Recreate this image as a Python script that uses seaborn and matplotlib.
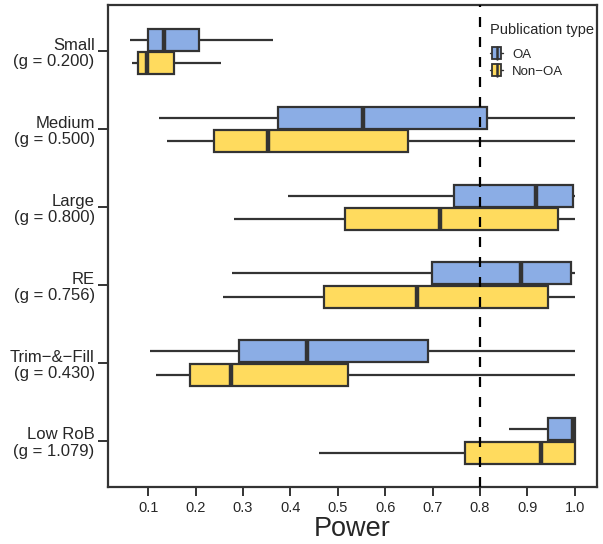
"""
Power of OA vs Non-OA studies, horizontal boxplots by effect size scenario.
"""
import pandas as pd
import matplotlib
matplotlib.use("Agg")
import matplotlib.pyplot as plt
from matplotlib.legend_handler import HandlerBase
from matplotlib.patches import Patch, Rectangle
from matplotlib.lines import Line2D
import seaborn as sns

# Scenario labels (y axis)
scenarios = ["Small\n(g = 0.200)", "Medium\n(g = 0.500)", "Large\n(g = 0.800)",
             "RE\n(g = 0.756)", "Trim\u2212&\u2212Fill\n(g = 0.430)", "Low RoB\n(g = 1.079)"]
groups = ["OA", "Non\u2212OA"]

# five-number summaries: min, q1, median, q3, max
oa_stats = [
    [0.062, 0.100, 0.134, 0.208, 0.363],
    [0.123, 0.374, 0.553, 0.814, 1.000],
    [0.396, 0.746, 0.918, 0.997, 1.000],
    [0.277, 0.698, 0.887, 0.993, 1.000],
    [0.103, 0.292, 0.436, 0.690, 1.000],
    [0.862, 0.943, 0.996, 1.000, 1.000],
]
non_oa_stats = [
    [0.066, 0.078, 0.097, 0.155, 0.254],
    [0.140, 0.239, 0.353, 0.649, 1.000],
    [0.281, 0.515, 0.716, 0.964, 1.000],
    [0.257, 0.472, 0.667, 0.943, 1.000],
    [0.116, 0.188, 0.274, 0.521, 1.000],
    [0.461, 0.768, 0.929, 1.000, 1.000],
]

colors = {"OA": "#8BADE5", "Non\u2212OA": "#FFDB5E"}
edge = "#333333"


class BoxKeyHandler(HandlerBase):
    """Little vertical box glyph like ggplot's boxplot key."""
    def create_artists(self, legend, orig_handle, xdescent, ydescent,
                       width, height, fontsize, trans):
        x0, y0 = -xdescent, -ydescent
        cx = x0 + width / 2
        whisk = Line2D([x0, x0 + width], [y0 + height / 2] * 2, color=edge, lw=1.0,
                       transform=trans)
        rect = Rectangle((x0 + width * 0.15, y0), width * 0.7, height,
                         facecolor=orig_handle.get_facecolor(), edgecolor=edge,
                         lw=1.3, transform=trans)
        med = Line2D([cx, cx], [y0, y0 + height], color=edge, lw=1.8, transform=trans)
        return [whisk, rect, med]


def build_frame():
    rows = []
    for scen, a, b in zip(scenarios, oa_stats, non_oa_stats):
        for g, vals in zip(groups, [a, b]):
            for v in vals:
                rows.append({"Scenario": scen, "Publication type": g, "Power": v})
    return pd.DataFrame(rows)


def main():
    df = build_frame()
    sns.set_style("white")
    plt.rcParams["font.family"] = ["Liberation Sans", "DejaVu Sans"]

    fig = plt.figure(figsize=(6.03, 5.44), dpi=100)
    ax = fig.add_axes([0.179, 0.105, 0.811, 0.885])

    sns.boxplot(data=df, y="Scenario", x="Power", hue="Publication type",
                order=scenarios, hue_order=groups, palette=colors,
                orient="h", whis=(0, 100), width=0.6, gap=0.06,
                linecolor=edge, linewidth=1.6, saturation=1,
                medianprops={"linewidth": 3.2, "color": edge},
                whiskerprops={"linewidth": 1.6, "color": edge},
                capprops={"linewidth": 0},
                legend=False, ax=ax)

    ax.axvline(0.8, color="black", linestyle=(0, (4.5, 4.5)), linewidth=1.6, zorder=5)

    ax.set_xlim(0.015, 1.047)
    ax.set_ylim(5.59, -0.59)
    ax.set_xticks([0.1, 0.2, 0.3, 0.4, 0.5, 0.6, 0.7, 0.8, 0.9, 1.0])
    ax.set_xticklabels(["0.1", "0.2", "0.3", "0.4", "0.5", "0.6", "0.7", "0.8", "0.9", "1.0"])
    ax.set_xlabel("Power", fontsize=19.5, labelpad=0.5)
    ax.set_ylabel("")
    ax.tick_params(axis="x", labelsize=10.5, length=6.5, width=1.4, color=edge, bottom=True, pad=4)
    ax.tick_params(axis="y", labelsize=12, length=7.5, width=1.4, color=edge, left=True, pad=2)
    for lab in ax.get_yticklabels():
        lab.set_multialignment("right")
        lab.set_linespacing(1.1)
    for sp in ax.spines.values():
        sp.set_color(edge)
        sp.set_linewidth(1.6)

    handles = [Patch(facecolor=colors[g], edgecolor=edge, label=g) for g in groups]
    leg = ax.legend(handles=handles, title="Publication type", loc="upper right",
                    bbox_to_anchor=(1.01, 0.98), frameon=False, fontsize=9.5,
                    title_fontsize=10.5, handlelength=1.0, handleheight=1.1,
                    handletextpad=0.7, labelspacing=0.25, borderaxespad=0.2,
                    handler_map={Patch: BoxKeyHandler()})
    leg._legend_box.align = "left"
    leg._legend_box.sep = 7

    fig.savefig("out.png", dpi=100)


if __name__ == "__main__":
    main()
